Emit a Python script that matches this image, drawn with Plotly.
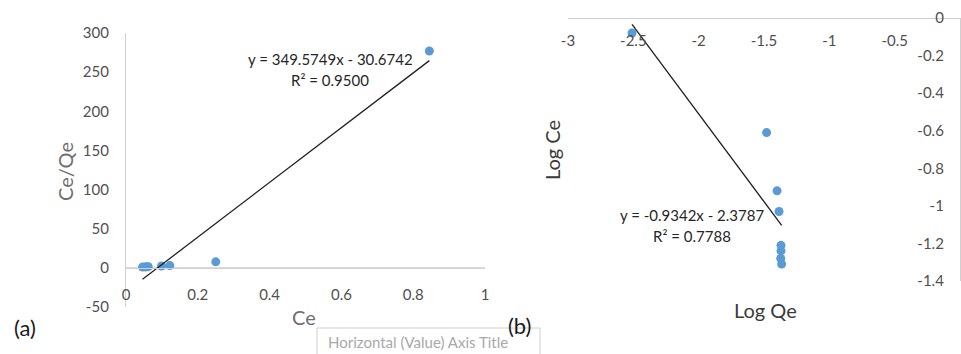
import plotly.graph_objects as go

# ---- Panel (a): Langmuir linear form, Ce/Qe vs Ce ----
a_ce = [0.046, 0.053, 0.058, 0.062, 0.099, 0.122, 0.250, 0.845]
a_ce_qe = [1.0, 1.2, 1.3, 1.5, 2.4, 2.9, 7.7, 277.0]
a_slope, a_intercept, a_r2 = 349.5749, -30.6742, 0.9500
a_xticks = [0, 0.2, 0.4, 0.6, 0.8, 1]
a_yticks = [-50, 0, 50, 100, 150, 200, 250, 300]

# ---- Panel (b): Freundlich log form, Log Ce vs Log Qe ----
b_log_qe = [-2.51, -1.48, -1.40, -1.385, -1.37, -1.37, -1.372, -1.365]
b_log_ce = [-0.08, -0.61, -0.92, -1.03, -1.21, -1.24, -1.28, -1.31]
b_slope, b_intercept, b_r2 = -0.9342, -2.3787, 0.7788
b_xticks = [-3, -2.5, -2, -1.5, -1, -0.5, 0]
b_yticks = [0, -0.2, -0.4, -0.6, -0.8, -1, -1.2, -1.4]

W, H = 961, 354
FONT = "Lato"
TICK_COL = "#505050"
AXIS_COL = "#d0d0d0"
MARK_COL = "#5b9bd5"


def px_x(p):
    return p / W


def px_y(p):
    return (H - p) / H


def fmt_eq(m, b):
    sign = "-" if b < 0 else "+"
    return f"y = {m:.4f}x {sign} {abs(b):.4f}"


fig = go.Figure()

# panel (a) data and trend line
fig.add_trace(go.Scatter(x=a_ce, y=a_ce_qe, mode="markers",
                         marker=dict(color=MARK_COL, size=9),
                         xaxis="x", yaxis="y", showlegend=False))
a_lx = [min(a_ce), max(a_ce)]
fig.add_trace(go.Scatter(x=a_lx, y=[a_slope * v + a_intercept for v in a_lx],
                         mode="lines", line=dict(color="#1f1f1f", width=1.3),
                         xaxis="x", yaxis="y", showlegend=False))

# panel (b) data and trend line
fig.add_trace(go.Scatter(x=b_log_qe, y=b_log_ce, mode="markers",
                         marker=dict(color=MARK_COL, size=9),
                         xaxis="x2", yaxis="y2", showlegend=False))
b_lx = [min(b_log_qe), max(b_log_qe)]
fig.add_trace(go.Scatter(x=b_lx, y=[b_slope * v + b_intercept for v in b_lx],
                         mode="lines", line=dict(color="#1f1f1f", width=1.3),
                         xaxis="x2", yaxis="y2", showlegend=False))

tickfont = dict(family=FONT, size=15, color=TICK_COL)
hidden_tick = dict(ticks="outside", tickcolor="rgba(0,0,0,0)", automargin=False,
                   showline=True, linecolor=AXIS_COL, linewidth=1.3,
                   showgrid=False, zeroline=False, tickfont=tickfont)

# panel (a) axes: horizontal axis crosses at y = 0
a_ydom = [px_y(307), px_y(33)]
a_zero = a_ydom[0] + (0 - a_yticks[0]) / (a_yticks[-1] - a_yticks[0]) * (a_ydom[1] - a_ydom[0])

fig.update_layout(
    xaxis=dict(domain=[px_x(126), px_x(485)], range=[0, 1], anchor="free", position=a_zero,
               tickvals=a_xticks, ticktext=[f"{v:g}" for v in a_xticks], ticklen=13, **hidden_tick),
    yaxis=dict(domain=a_ydom, range=[-50, 300], anchor="x",
               tickvals=a_yticks, ticktext=[f"{v:g}" for v in a_yticks], ticklen=13, **hidden_tick),
    # panel (b): horizontal axis along the top (y = 0), vertical axis at x = 0 on the right
    xaxis2=dict(domain=[px_x(568), px_x(960)], range=[-3, 0], anchor="free", position=px_y(18),
                tickvals=b_xticks, ticktext=[f"{v:g}" for v in b_xticks], ticklen=9, **hidden_tick),
    yaxis2=dict(domain=[px_y(281), px_y(18)], range=[-1.4, 0], anchor="free", position=px_x(960),
                side="left",
                tickvals=b_yticks, ticktext=[f"{v:g}" for v in b_yticks], ticklen=13, **hidden_tick),
)

# the zero line of panel (a) drawn across the plot
fig.add_shape(type="line", xref="x", yref="y", x0=0, x1=1, y0=0, y1=0,
              line=dict(color=AXIS_COL, width=1.3), layer="below")

ann = []


def note(x, y, text, size=15, color="#262626", angle=0, xanchor="center"):
    ann.append(dict(x=px_x(x), y=px_y(y), xref="paper", yref="paper", text=text,
                    showarrow=False, textangle=angle, xanchor=xanchor, yanchor="middle",
                    font=dict(family=FONT, size=size, color=color)))


# trend line labels
note(330, 59, fmt_eq(a_slope, a_intercept))
note(330, 80, f"R² = {a_r2:.4f}")
note(692, 215, fmt_eq(b_slope, b_intercept))
note(692, 236, f"R² = {b_r2:.4f}")

# axis titles
note(65, 172, "Ce/Qe", size=20, color="#6e6e6e", angle=-90)
note(304, 317, "Ce", size=20, color="#6e6e6e")
note(552, 150, "Log Ce", size=20, color="#3a3a3a", angle=-90)
note(765, 310, "Log Qe", size=20, color="#3a3a3a")

# hover hint box under the plots
fig.add_shape(type="rect", xref="paper", yref="paper",
              x0=px_x(317), x1=px_x(540), y0=px_y(360), y1=px_y(328),
              line=dict(color="#cfcfcf", width=1), fillcolor="white", layer="above")
note(326, 342, "Horizontal (Value) Axis Title", size=15, color="#a9a9a9", xanchor="left")

# panel letters
note(25, 327, "(a)", size=22, color="#1a1a1a")
note(519, 325, "(b)", size=22, color="#1a1a1a")

fig.update_layout(
    width=W, height=H, margin=dict(l=0, r=0, t=0, b=0),
    paper_bgcolor="white", plot_bgcolor="white",
    annotations=ann, font=dict(family=FONT),
)

fig.write_html("out.html", config={"displayModeBar": False})
